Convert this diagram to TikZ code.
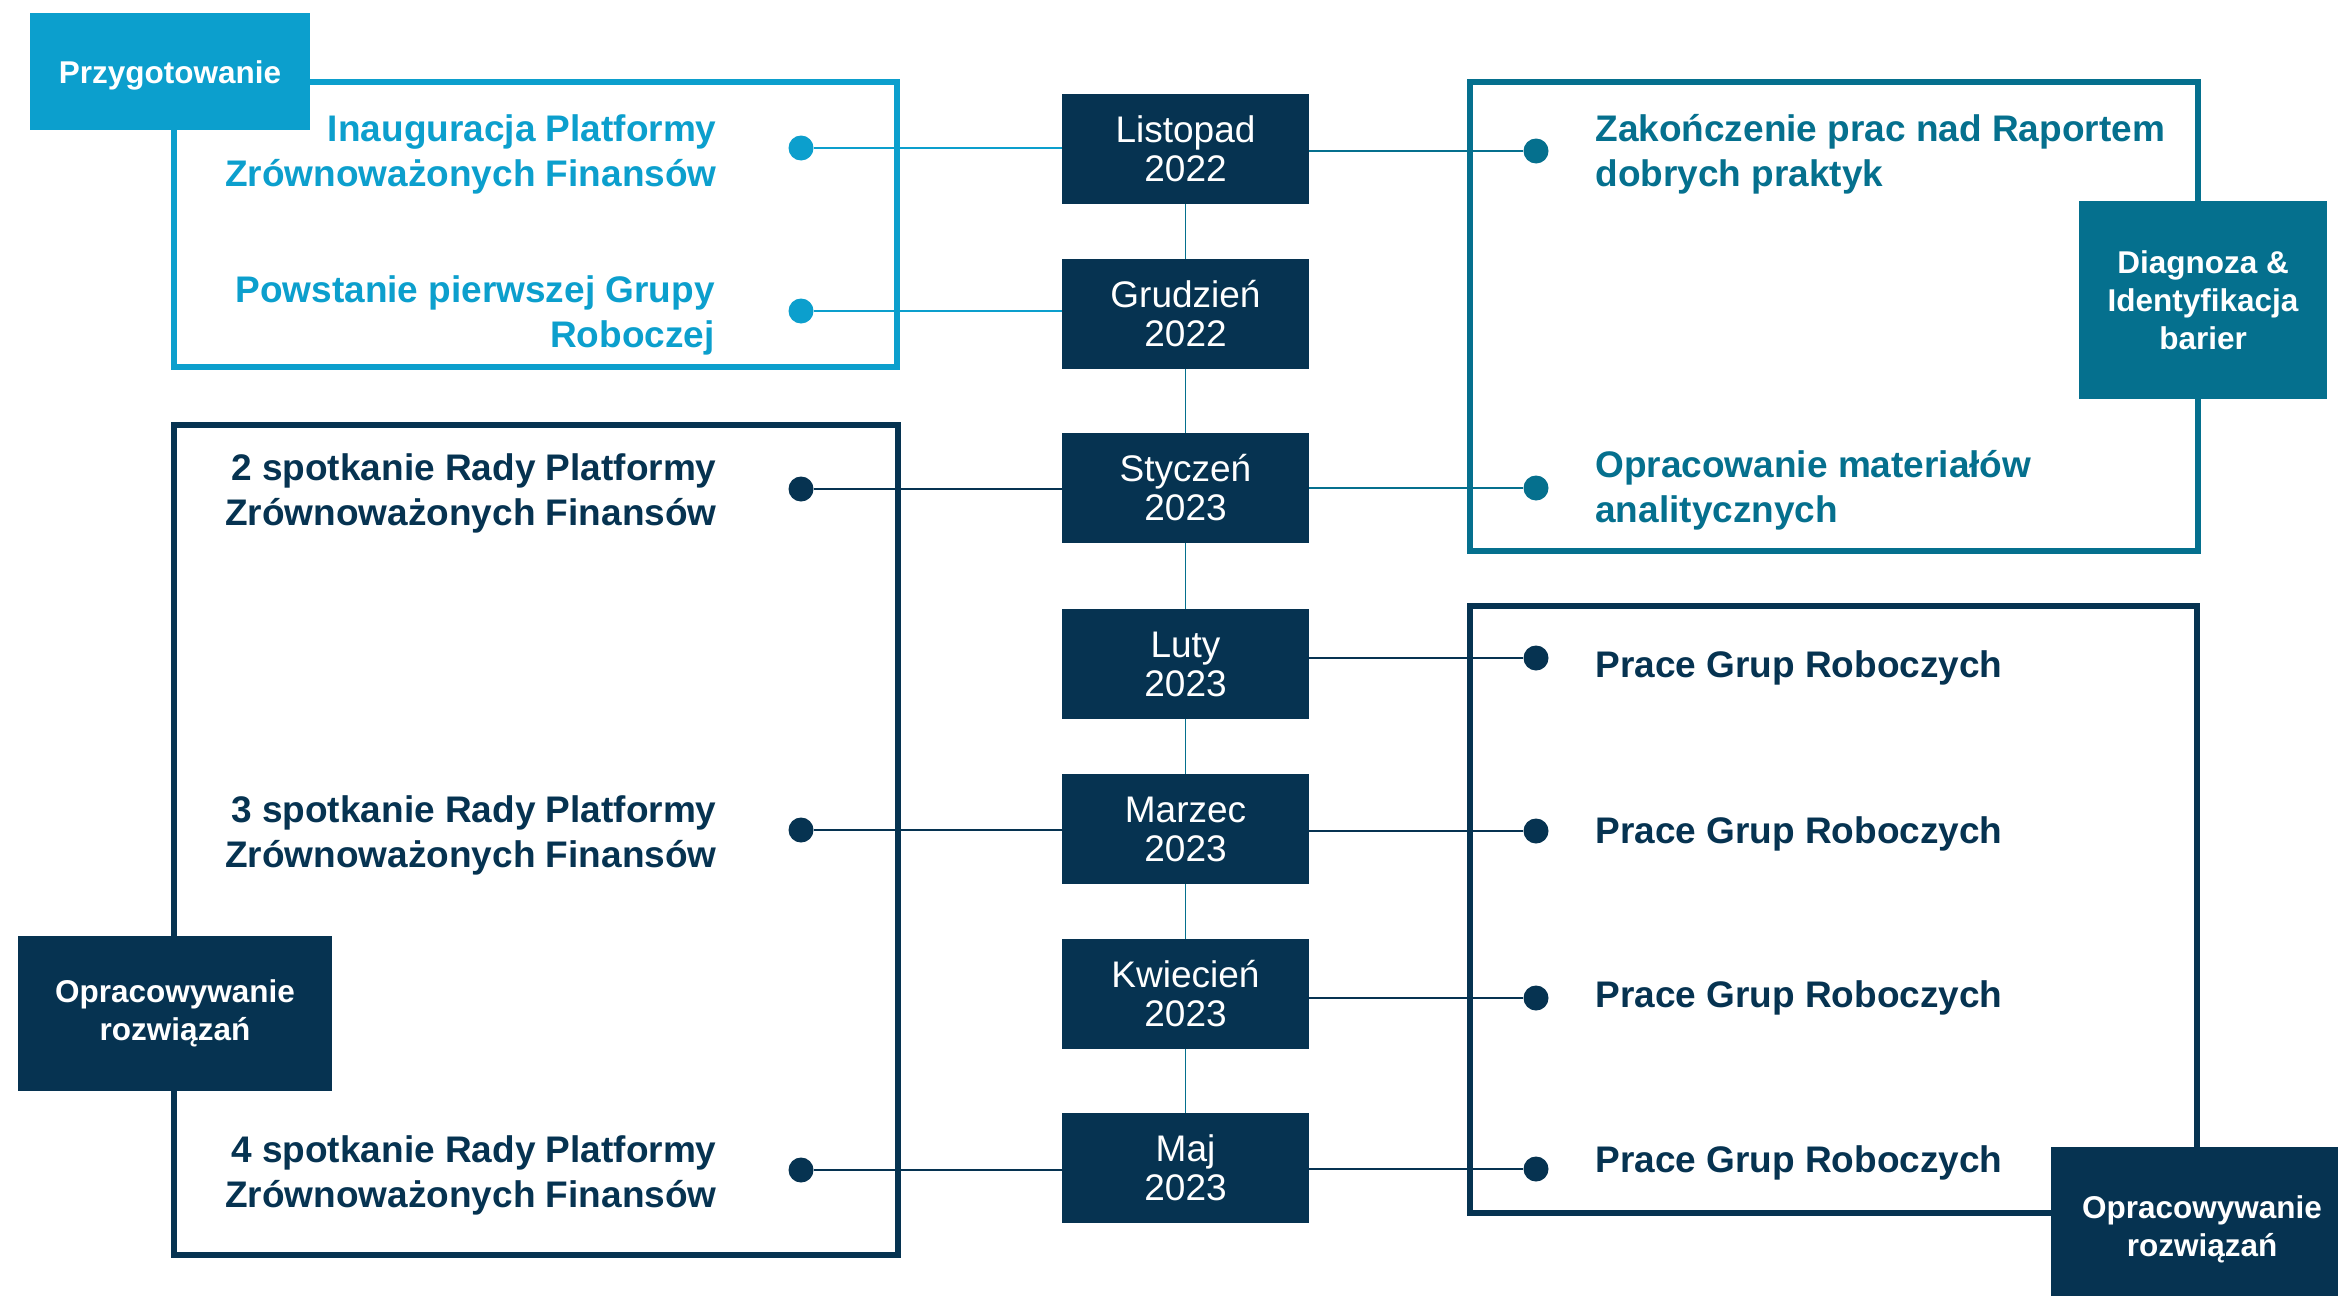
\documentclass[tikz,border=0pt]{standalone}
\usepackage{fontspec}
\setmainfont{Liberation Sans}
\definecolor{lblue}{HTML}{0C9FCD}
\definecolor{tealc}{HTML}{05708E}
\definecolor{navy}{HTML}{063351}
\begin{document}
\begin{tikzpicture}[x=0.5pt,y=-0.5pt,
  month/.style={fill=navy,text=white,minimum width=123.5pt,minimum height=55pt,inner sep=0pt,
    font=\fontsize{18.5}{19.5}\selectfont,align=center},
  frame/.style={draw,line width=2.8pt},
  tag/.style={text=white,inner sep=0pt,font=\bfseries\fontsize{15.75}{19}\selectfont},
  tagml/.style={tag,align=center},
  dot/.style={circle,fill,inner sep=0pt,minimum size=12.5pt},
  conn/.style={line width=0.9pt},
  evt/.style={inner sep=0pt,font=\bfseries\fontsize{18.5}{22.5}\selectfont}]
\useasboundingbox (0,0) rectangle (2338,1295);
\fill[white] (0,0) rectangle (2338,1295);

% frames
\draw[frame,lblue] (174,82) rectangle (897,367);
\draw[frame,navy] (174,425) rectangle (898,1255);
\draw[frame,tealc] (1470,82) rectangle (2198,551);
\draw[frame,navy] (1470,606) rectangle (2197,1213);

% tags
\node[tag,fill=lblue,minimum width=140pt,minimum height=58.5pt,text depth=0pt] (tagA) at (170,72) {Przygotowanie};
\node[tagml,fill=navy,minimum width=157pt,minimum height=77.5pt] (tagB) at (175,1013) {Opracowywanie\\rozwiązań};
\node[tagml,fill=tealc,minimum width=124pt,minimum height=99pt] (tagC) at (2203,300) {Diagnoza \&\\Identyfikacja\\barier};
\node[tagml,fill=navy,minimum width=151pt,minimum height=82pt] (tagD) at (2202,1229) {Opracowywanie\\rozwiązań};

% months
\node[month] (m1) at (1185.5,149) {Listopad\\2022};
\node[month] (m2) at (1185.5,314) {Grudzień\\2022};
\node[month] (m3) at (1185.5,488) {Styczeń\\2023};
\node[month] (m4) at (1185.5,664) {Luty\\2023};
\node[month] (m5) at (1185.5,829) {Marzec\\2023};
\node[month] (m6) at (1185.5,994) {Kwiecień\\2023};
\node[month] (m7) at (1185.5,1168) {Maj\\2023};
\foreach \a/\b in {m1/m2,m2/m3,m3/m4,m4/m5,m5/m6,m6/m7}
  \draw[conn,tealc] (\a.south) -- (\b.north);

% left events
\node[evt,text=lblue,anchor=base east] (l1) at (717,141) {\begin{tabular}[t]{@{}r@{}}Inauguracja Platformy\\Zrównoważonych Finansów\end{tabular}};
\node[evt,text=lblue,anchor=base east] (l2) at (715,302) {\begin{tabular}[t]{@{}r@{}}Powstanie pierwszej Grupy\\Roboczej\end{tabular}};
\node[evt,text=navy,anchor=base east] (l3) at (717,480) {\begin{tabular}[t]{@{}r@{}}2 spotkanie Rady Platformy\\Zrównoważonych Finansów\end{tabular}};
\node[evt,text=navy,anchor=base east] (l4) at (717,822) {\begin{tabular}[t]{@{}r@{}}3 spotkanie Rady Platformy\\Zrównoważonych Finansów\end{tabular}};
\node[evt,text=navy,anchor=base east] (l5) at (717,1162) {\begin{tabular}[t]{@{}r@{}}4 spotkanie Rady Platformy\\Zrównoważonych Finansów\end{tabular}};

\node[dot,lblue] (dl1) at (801,148) {};
\node[dot,lblue] (dl2) at (801,311) {};
\node[dot,navy] (dl3) at (801,489) {};
\node[dot,navy] (dl4) at (801,830) {};
\node[dot,navy] (dl5) at (801,1170) {};

\draw[conn,lblue] (dl1) -- (dl1 -| m1.west);
\draw[conn,lblue] (dl2) -- (dl2 -| m2.west);
\draw[conn,navy] (dl3) -- (dl3 -| m3.west);
\draw[conn,navy] (dl4) -- (dl4 -| m5.west);
\draw[conn,navy] (dl5) -- (dl5 -| m7.west);

% right events
\node[evt,text=tealc,anchor=base west] (r1) at (1595,141.5) {\begin{tabular}[t]{@{}l@{}}Zakończenie prac nad Raportem\\dobrych praktyk\end{tabular}};
\node[evt,text=tealc,anchor=base west] (r2) at (1595,477) {\begin{tabular}[t]{@{}l@{}}Opracowanie materiałów\\analitycznych\end{tabular}};
\node[evt,text=navy,anchor=base west] (r3) at (1595,677) {Prace Grup Roboczych};
\node[evt,text=navy,anchor=base west] (r4) at (1595,843) {Prace Grup Roboczych};
\node[evt,text=navy,anchor=base west] (r5) at (1595,1007) {Prace Grup Roboczych};
\node[evt,text=navy,anchor=base west] (r6) at (1595,1172) {Prace Grup Roboczych};

\node[dot,tealc] (dr1) at (1536,151) {};
\node[dot,tealc] (dr2) at (1536,488) {};
\node[dot,navy] (dr3) at (1536,658) {};
\node[dot,navy] (dr4) at (1536,831) {};
\node[dot,navy] (dr5) at (1536,998) {};
\node[dot,navy] (dr6) at (1536,1169) {};

\draw[conn,tealc] (dr1 -| m1.east) -- (dr1);
\draw[conn,tealc] (dr2 -| m3.east) -- (dr2);
\draw[conn,navy] (dr3 -| m4.east) -- (dr3);
\draw[conn,navy] (dr4 -| m5.east) -- (dr4);
\draw[conn,navy] (dr5 -| m6.east) -- (dr5);
\draw[conn,navy] (dr6 -| m7.east) -- (dr6);
\end{tikzpicture}
\end{document}
